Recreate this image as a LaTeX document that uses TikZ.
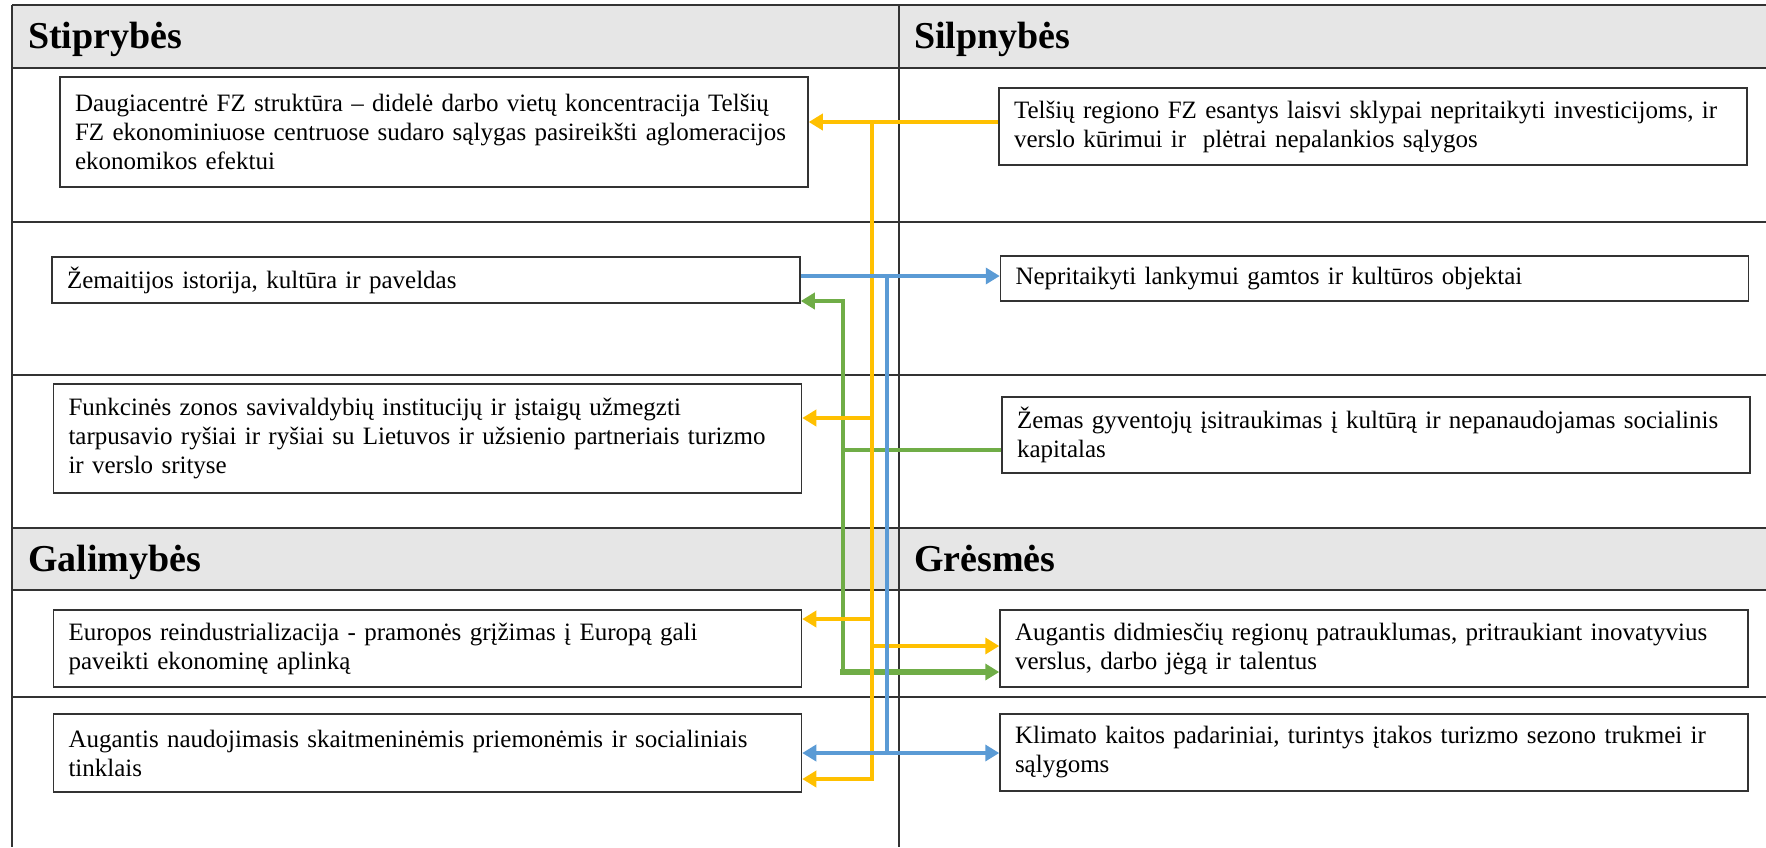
\documentclass[tikz,border=0pt]{standalone}
\usepackage{fontspec}
\setmainfont{Liberation Serif}
\usetikzlibrary{arrows.meta}
\definecolor{yel}{HTML}{FFC000}
\definecolor{blu}{HTML}{5B9BD5}
\definecolor{grn}{HTML}{70AD47}
\definecolor{hdrfill}{HTML}{E6E6E6}
\begin{document}
\begin{tikzpicture}[x=1pt,y=-1pt,
  boxn/.style={draw=black!80, line width=1.5pt, fill=white, rectangle, inner xsep=15pt, inner ysep=0pt,
    minimum width=748pt, text width=718pt, align=left, font=\fontsize{25}{29}\selectfont},
  tline/.style={draw=black!80, line width=1.5pt},
  hdr/.style={font=\fontsize{38}{40}\selectfont\bfseries, anchor=base west, inner sep=0pt},
  yl/.style={draw=yel, line width=4pt},
  bl/.style={draw=blu, line width=4pt},
  gr/.style={draw=grn, line width=4pt},
  tip/.style={-{Triangle[length=14pt,width=16pt]}},
  tips/.style={{Triangle[length=14pt,width=16pt]}-{Triangle[length=14pt,width=16pt]}}]
\useasboundingbox (0,0) rectangle (1766,847);
% table
\fill[hdrfill] (12,5) rectangle (1766,68);
\fill[hdrfill] (12,528) rectangle (1766,590);
\foreach \yy in {5,68,222,375,528,590,697} {\draw[tline] (12,\yy) -- (1766,\yy);}
\draw[tline] (12,5) -- (12,847);
\draw[tline] (899,5) -- (899,847);
\node[hdr] (hS) at (28,48) {Stiprybės};
\node[hdr] (hW) at (914,48) {Silpnybės};
\node[hdr] (hO) at (28,571) {Galimybės};
\node[hdr] (hT) at (914,571) {Grėsmės};
% boxes
\node[boxn, minimum height=110pt] (L1) at (434,132) {\mbox{Daugiacentrė FZ struktūra – didelė darbo vietų koncentracija Telšių}\\ \mbox{FZ ekonominiuose centruose sudaro sąlygas pasireikšti aglomeracijos}\\ ekonomikos efektui};
\node[boxn, minimum height=46pt] (L2) at (426,280) {Žemaitijos istorija, kultūra ir paveldas};
\node[boxn, minimum height=109pt] (L3) at (427.5,438.5) {\mbox{Funkcinės zonos savivaldybių institucijų ir įstaigų užmegzti}\\ \mbox{tarpusavio ryšiai ir ryšiai su Lietuvos ir užsienio partneriais turizmo}\\ ir verslo srityse};
\node[boxn, minimum height=77pt] (L4) at (427.5,648.5) {\mbox{Europos reindustrializacija - pramonės grįžimas į Europą gali}\\ paveikti ekonominę aplinką};
\node[boxn, minimum height=78pt] (L5) at (427.5,753) {\mbox{Augantis naudojimasis skaitmeninėmis priemonėmis ir socialiniais}\\ tinklais};
\node[boxn, minimum height=77pt] (R1) at (1373,126.5) {\mbox{Telšių regiono FZ esantys laisvi sklypai nepritaikyti investicijoms, ir}\\ verslo kūrimui ir\ \ plėtrai nepalankios sąlygos};
\node[boxn, minimum height=45pt] (R2) at (1374.5,278.5) {Nepritaikyti lankymui gamtos ir kultūros objektai};
\node[boxn, minimum height=76pt] (R3) at (1376,435) {\mbox{Žemas gyventojų įsitraukimas į kultūrą ir nepanaudojamas socialinis}\\ kapitalas};
\node[boxn, minimum height=77pt] (R4) at (1374,648.5) {\mbox{Augantis didmiesčių regionų patrauklumas, pritraukiant inovatyvius}\\ verslus, darbo jėgą ir talentus};
\node[boxn, minimum height=77pt] (R5) at (1374,752.5) {\mbox{Klimato kaitos padariniai, turintys įtakos turizmo sezono trukmei ir}\\ sąlygoms};
% green connectors
\coordinate (gmid) at (843,450);
\coordinate (gup) at (843,301);
\coordinate (glow) at (843,672);
\draw[gr,tip] (R3.west |- gmid) -- (gmid) -- (gup) -- (L2.east |- gup);
\draw[gr] (gmid) -- (glow);
\draw[gr, line width=6pt, tip] ([xshift=-3pt]glow) -- (R4.west |- glow);
% yellow connectors
\coordinate (ytop) at (872,122);
\coordinate (ybot) at (872,779);
\coordinate (y3) at (872,418);
\coordinate (y4) at (872,619);
\coordinate (y9) at (872,646);
\draw[yl,tip] (R1.west |- ytop) -- (L1.east |- ytop);
\draw[yl,tip] (ytop) -- (ybot) -- (L5.east |- ybot);
\draw[yl,tip] (y3) -- (L3.east |- y3);
\draw[yl,tip] (y4) -- (L4.east |- y4);
\draw[yl,tip] (y9) -- (R4.west |- y9);
% blue connectors
\coordinate (btop) at (887,276);
\coordinate (bbot) at (887,753);
\draw[bl,tip] (L2.east |- btop) -- (R2.west |- btop);
\draw[bl] (btop) -- (bbot);
\draw[bl,tips] (L5.east |- bbot) -- (R5.west |- bbot);
\end{tikzpicture}
\end{document}
